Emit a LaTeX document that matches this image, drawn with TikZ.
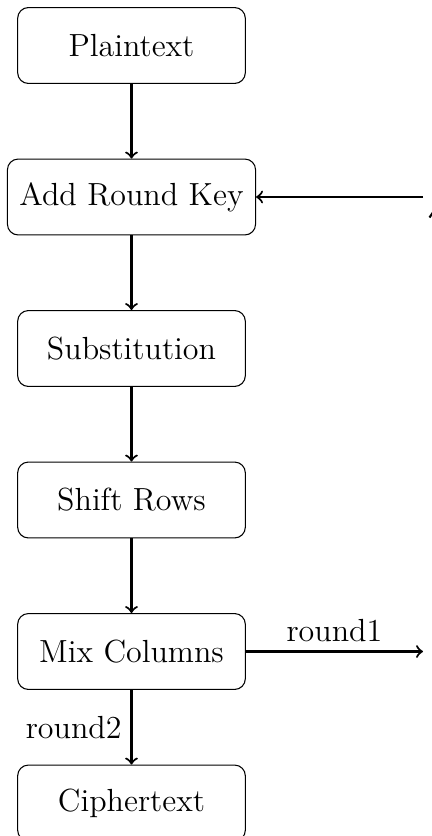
\documentclass[tikz,border=0pt]{standalone}
\begin{document}
\begin{tikzpicture}[x=0.375pt,y=-0.375pt,
  stepbox/.style={draw, rounded corners=4pt, minimum width=3cm, minimum height=1cm,
    font=\fontsize{12}{14.4}\selectfont, inner sep=4.5pt},
  flow/.style={->, thick},
  lbl/.style={font=\fontsize{12}{14.4}\selectfont}]
\useasboundingbox (0,0) rectangle (432,836);
\clip (0,0) rectangle (432,836);
\node[stepbox] (pt) at (131.5,45.5) {Plaintext};
\node[stepbox] (ark) at (131.5,197) {Add Round Key};
\node[stepbox] (sub) at (131.5,348.5) {Substitution};
\node[stepbox] (sr) at (131.5,500) {Shift Rows};
\node[stepbox] (mc) at (131.5,651.5) {Mix Columns};
\node[stepbox] (ct) at (131.5,803) {Ciphertext};
\coordinate (kin) at (423,197);
\coordinate (rout) at (423,651.5);
\coordinate (fa) at (429.5,217.5);
\coordinate (fb) at (434,211);
\draw[flow] (pt) -- (ark);
\draw[flow] (ark) -- (sub);
\draw[flow] (sub) -- (sr);
\draw[flow] (sr) -- (mc);
\draw[flow] (kin) -- (ark.east);
\draw[flow] (mc.east) -- node[lbl, above] {round1} (rout);
\draw[flow] (mc) -- node[lbl, left] {round2} (ct);
\draw[thick] (fa) -- (fb);
\end{tikzpicture}
\end{document}
